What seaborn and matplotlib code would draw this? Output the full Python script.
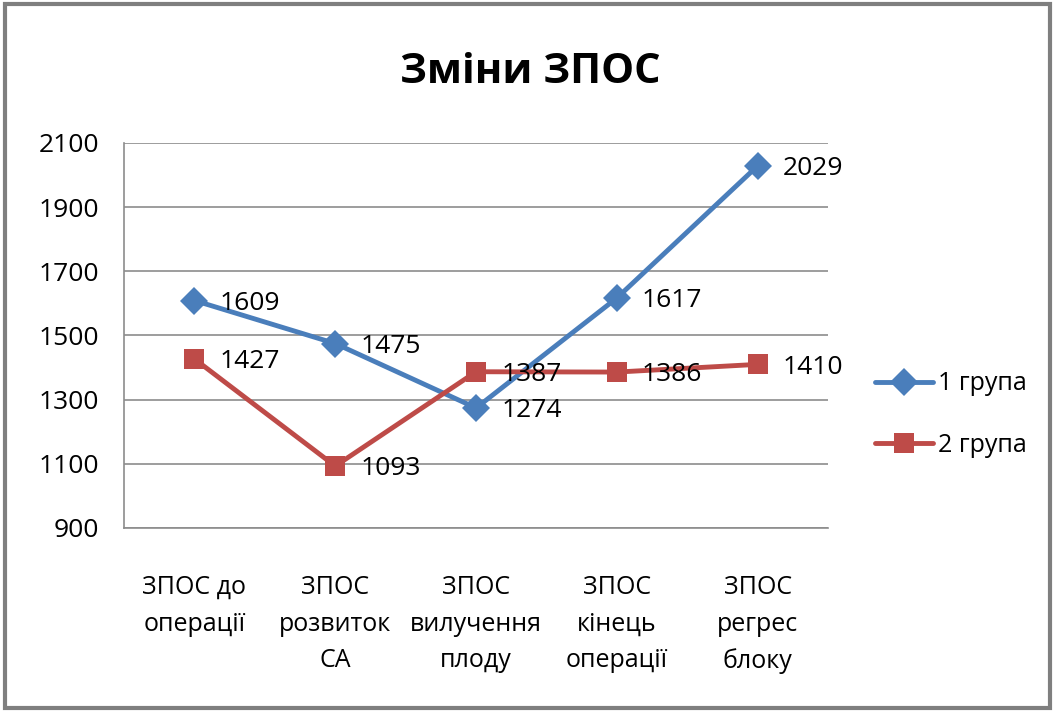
import pandas as pd
import matplotlib.pyplot as plt
import seaborn as sns
from matplotlib.patches import Rectangle

# ===============================
# DATA
# ===============================
categories = ["ЗПОС до\nоперації", "ЗПОС\nрозвиток\nСА", "ЗПОС\nвилучення\nплоду",
              "ЗПОС\nкінець\nоперації", "ЗПОС\nрегрес\nблоку"]
group1 = [1609, 1475, 1274, 1617, 2029]
group2 = [1427, 1093, 1387, 1386, 1410]
series_names = ["1 група", "2 група"]
y_ticks = [900, 1100, 1300, 1500, 1700, 1900, 2100]

df = pd.DataFrame({
    "pos": list(range(len(categories))) * 2,
    "value": group1 + group2,
    "group": [series_names[0]] * len(group1) + [series_names[1]] * len(group2),
})

# ===============================
# STYLE
# ===============================
sns.set_style("white")
plt.rcParams["font.family"] = ["Open Sans", "DejaVu Sans"]
plt.rcParams["text.color"] = "black"

colors = {series_names[0]: "#4A7EBB", series_names[1]: "#BE4B48"}
markers = {series_names[0]: "D", series_names[1]: "s"}

fig = plt.figure(figsize=(10.55, 7.11), dpi=100)
ax = fig.add_axes([0.1175, 0.2574, 0.785 - 0.1175, 0.7989 - 0.2574])

sns.lineplot(data=df, x="pos", y="value", hue="group", style="group",
             palette=colors, markers=markers, dashes=False, linewidth=3.5,
             markersize=14, markeredgewidth=0, ax=ax)

# data labels to the right of each point
for vals in (group1, group2):
    for i, v in enumerate(vals):
        ax.annotate(str(v), (i, v), xytext=(18, -2), textcoords="offset points",
                    ha="left", va="center", fontsize=19, color="black")

ax.set_xlim(-0.5, len(categories) - 0.5)
ax.set_ylim(y_ticks[0], y_ticks[-1])
ax.set_yticks(y_ticks)
ax.set_xticks(range(len(categories)))
ax.set_xticklabels(categories, fontsize=18, linespacing=1.6)
ax.tick_params(axis="y", labelsize=19, labelcolor="black", length=0, pad=18)
ax.tick_params(axis="x", labelcolor="black", length=0, pad=34)
ax.yaxis.grid(True, color="#8c8c8c", linewidth=1.2)
ax.set_xlabel("")
ax.set_ylabel("")
for side in ("top", "right"):
    ax.spines[side].set_visible(False)
for side in ("left", "bottom"):
    ax.spines[side].set_color("#8c8c8c")
    ax.spines[side].set_linewidth(1.2)

sns.move_legend(ax, loc="center left", bbox_to_anchor=(1.035, 0.295), frameon=False,
                title=None, fontsize=18, handlelength=2.3, labelspacing=1.45,
                handletextpad=0.2)

fig.text(0.503, 0.898, "Зміни ЗПОС", ha="center", va="center",
         fontsize=30, fontweight="bold", color="black")

# outer chart frame
fig.patches.append(Rectangle((0.005, 0.004), 0.99, 0.99, transform=fig.transFigure,
                             fill=False, edgecolor="#7f7f7f", linewidth=3))

fig.savefig("out.png", dpi=100)
